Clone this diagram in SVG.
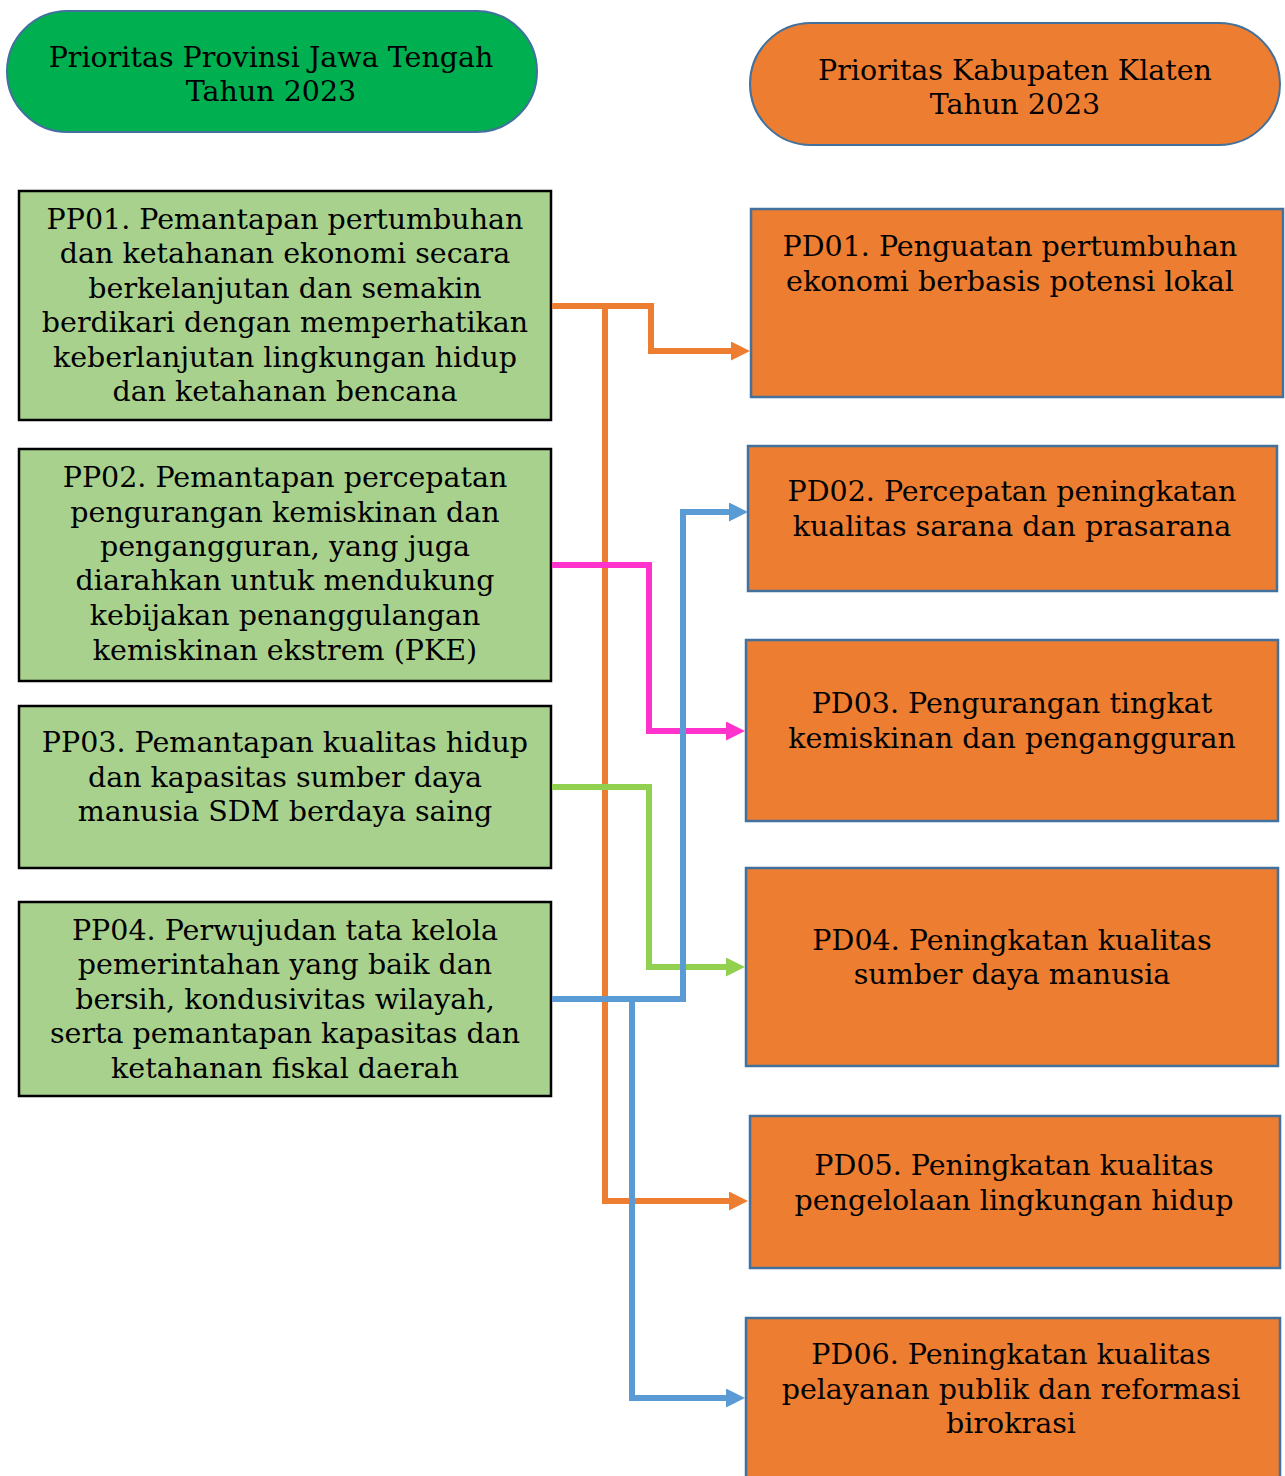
<svg xmlns="http://www.w3.org/2000/svg" width="1285" height="1476" viewBox="0 0 1285 1476">
<style>
text{font-family:"DejaVu Serif","Liberation Serif",serif;font-size:28.5px;fill:#000;text-anchor:middle}
.pp{fill:#A9D18E;stroke:#000;stroke-width:2.5}
.pd{fill:#ED7D31;stroke:#41719C;stroke-width:2.5}
.pill{stroke:#41719C;stroke-width:2}
.c{fill:none;stroke-width:6;stroke-linejoin:miter}
</style>
<defs>
<marker id="aO" markerUnits="userSpaceOnUse" markerWidth="19" markerHeight="19" refX="5" refY="9.5" orient="auto"><path d="M0,0L19,9.5L0,19z" fill="#ED7D31"/></marker>
<marker id="aP" markerUnits="userSpaceOnUse" markerWidth="19" markerHeight="19" refX="5" refY="9.5" orient="auto"><path d="M0,0L19,9.5L0,19z" fill="#FF33CC"/></marker>
<marker id="aG" markerUnits="userSpaceOnUse" markerWidth="19" markerHeight="19" refX="5" refY="9.5" orient="auto"><path d="M0,0L19,9.5L0,19z" fill="#92D050"/></marker>
<marker id="aB" markerUnits="userSpaceOnUse" markerWidth="19" markerHeight="19" refX="5" refY="9.5" orient="auto"><path d="M0,0L19,9.5L0,19z" fill="#5B9BD5"/></marker>
</defs>
<g id="hdr-prov"><rect class="pill" x="7" y="11" width="530" height="121" rx="60.5" fill="#00B050"/>
<text x="271" y="67">Prioritas Provinsi Jawa Tengah</text><text x="271" y="101">Tahun 2023</text></g>
<g id="hdr-kab"><rect class="pill" x="750" y="23" width="530" height="122" rx="61" fill="#ED7D31"/>
<text x="1015" y="80">Prioritas Kabupaten Klaten</text><text x="1015" y="114">Tahun 2023</text></g>
<g id="PP01"><rect class="pp" x="19" y="191" width="532" height="229"/>
<text x="285" y="229">PP01. Pemantapan pertumbuhan</text><text x="285" y="263">dan ketahanan ekonomi secara</text><text x="285" y="298">berkelanjutan dan semakin</text><text x="285" y="332">berdikari dengan memperhatikan</text><text x="285" y="367">keberlanjutan lingkungan hidup</text><text x="285" y="401">dan ketahanan bencana</text></g>
<g id="PP02"><rect class="pp" x="19" y="449" width="532" height="232"/>
<text x="285" y="487">PP02. Pemantapan percepatan</text><text x="285" y="522">pengurangan kemiskinan dan</text><text x="285" y="556">pengangguran, yang juga</text><text x="285" y="590">diarahkan untuk mendukung</text><text x="285" y="625">kebijakan penanggulangan</text><text x="285" y="660">kemiskinan ekstrem (PKE)</text></g>
<g id="PP03"><rect class="pp" x="19" y="706" width="532" height="162"/>
<text x="285" y="752">PP03. Pemantapan kualitas hidup</text><text x="285" y="787">dan kapasitas sumber daya</text><text x="285" y="821">manusia SDM berdaya saing</text></g>
<g id="PP04"><rect class="pp" x="19" y="902" width="532" height="194"/>
<text x="285" y="940">PP04. Perwujudan tata kelola</text><text x="285" y="974">pemerintahan yang baik dan</text><text x="285" y="1009">bersih, kondusivitas wilayah,</text><text x="285" y="1043">serta pemantapan kapasitas dan</text><text x="285" y="1078">ketahanan fiskal daerah</text></g>
<g id="PD01"><rect class="pd" x="751" y="209" width="532" height="188"/>
<text x="1010" y="256">PD01. Penguatan pertumbuhan</text><text x="1010" y="291">ekonomi berbasis potensi lokal</text></g>
<g id="PD02"><rect class="pd" x="748" y="446" width="529" height="145"/>
<text x="1012" y="501">PD02. Percepatan peningkatan</text><text x="1012" y="536">kualitas sarana dan prasarana</text></g>
<g id="PD03"><rect class="pd" x="746" y="640" width="532" height="181"/>
<text x="1012" y="713">PD03. Pengurangan tingkat</text><text x="1012" y="748">kemiskinan dan pengangguran</text></g>
<g id="PD04"><rect class="pd" x="746" y="868" width="532" height="198"/>
<text x="1012" y="950">PD04. Peningkatan kualitas</text><text x="1012" y="984">sumber daya manusia</text></g>
<g id="PD05"><rect class="pd" x="750" y="1116" width="530" height="152"/>
<text x="1014" y="1175">PD05. Peningkatan kualitas</text><text x="1014" y="1210">pengelolaan lingkungan hidup</text></g>
<g id="PD06"><rect class="pd" x="746" y="1318" width="534" height="170"/>
<text x="1011" y="1364">PD06. Peningkatan kualitas</text><text x="1011" y="1399">pelayanan publik dan reformasi</text><text x="1011" y="1433">birokrasi</text></g>
<g id="connectors">
<polyline class="c" stroke="#ED7D31" points="552,306 651,306 651,351 736,351" marker-end="url(#aO)"/>
<polyline class="c" stroke="#ED7D31" points="605,306 605,1201 734,1201" marker-end="url(#aO)"/>
<polyline class="c" stroke="#FF33CC" points="552,565 649,565 649,731 731,731" marker-end="url(#aP)"/>
<polyline class="c" stroke="#92D050" points="552,787 649,787 649,967 731,967" marker-end="url(#aG)"/>
<polyline class="c" stroke="#5B9BD5" points="552,999 683,999 683,512 734,512" marker-end="url(#aB)"/>
<polyline class="c" stroke="#5B9BD5" points="632,999 632,1398 731,1398" marker-end="url(#aB)"/>
</g>
</svg>
